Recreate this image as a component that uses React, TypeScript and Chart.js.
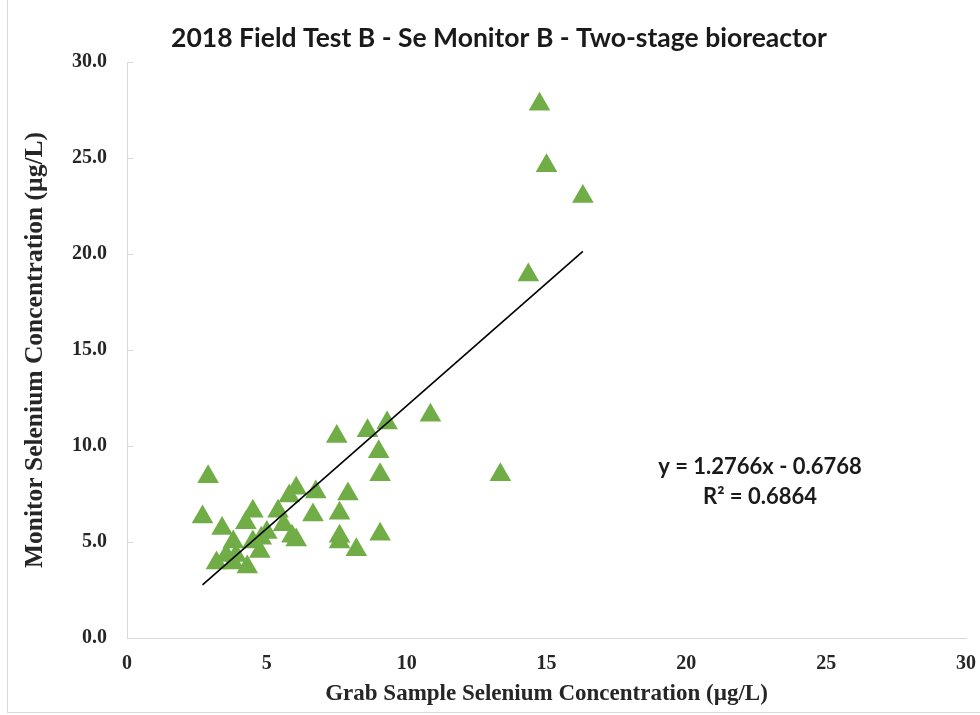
import React, { useEffect, useRef } from "react";
import { Chart, registerables } from "chart.js";

Chart.register(...registerables);

const TITLE = "2018 Field Test B - Se Monitor B - Two-stage bioreactor";
const X_TITLE = "Grab Sample Selenium Concentration (µg/L)";
const Y_TITLE = "Monitor Selenium Concentration (µg/L)";

const grabSe = [
  14.75, 15.0, 16.3, 14.35, 10.85, 13.35, 7.5, 8.6, 9.3, 9.0,
  9.05, 2.9, 2.7, 3.4, 9.05, 8.2, 7.6, 7.9, 7.6, 6.75,
  6.65, 6.05, 5.8, 5.9, 6.05, 5.4, 5.6, 4.5, 4.25, 3.8,
  3.55, 3.2, 3.9, 3.8, 4.3, 4.75, 4.5, 5.0, 7.6, 4.8,
];
const monitorSe = [
  27.8, 24.6, 23.0, 18.9, 11.6, 8.5, 10.5, 10.8, 11.2, 9.7,
  8.5, 8.4, 6.3, 5.7, 5.4, 4.6, 5.0, 7.5, 6.5, 7.6,
  6.4, 7.8, 7.4, 5.3, 5.1, 6.6, 5.9, 6.6, 6.0, 5.0,
  4.3, 3.9, 4.3, 3.9, 3.7, 4.5, 5.0, 5.5, 5.3, 5.2,
];

const TREND_SLOPE = 1.2766;
const TREND_INTERCEPT = -0.6768;
const EQUATION_LINES = ["y = 1.2766x - 0.6768", "R\u00B2 = 0.6864"];

const X_MIN = 0;
const X_MAX = 30;
const X_STEP = 5;
const Y_MIN = 0;
const Y_MAX = 30;
const Y_STEP = 5;

const SERIF = "'Liberation Serif', 'Times New Roman', serif";
const SANS = "Lato, 'Open Sans', sans-serif";

export default function App() {
  const ref = useRef<HTMLCanvasElement | null>(null);

  useEffect(() => {
    if (!ref.current) return;
    const points = grabSe.map((x, i) => ({ x, y: monitorSe[i] }));
    const xMinData = Math.min(...grabSe);
    const xMaxData = Math.max(...grabSe);
    const trend = [
      { x: xMinData, y: TREND_SLOPE * xMinData + TREND_INTERCEPT },
      { x: xMaxData, y: TREND_SLOPE * xMaxData + TREND_INTERCEPT },
    ];

    const decor = {
      id: "decor",
      beforeDraw(chart: any) {
        const ctx = chart.ctx;
        ctx.save();
        ctx.fillStyle = "#ffffff";
        ctx.fillRect(0, 0, chart.width, chart.height);
        ctx.strokeStyle = "#d9d9d9";
        ctx.lineWidth = 1;
        ctx.beginPath();
        ctx.moveTo(7.5, 0);
        ctx.lineTo(7.5, 712.5);
        ctx.lineTo(chart.width, 712.5);
        ctx.stroke();
        ctx.restore();
      },
      afterDraw(chart: any) {
        const ctx = chart.ctx;
        const area = chart.chartArea;
        const ys = chart.scales.y;
        ctx.save();
        ctx.strokeStyle = "#d9d9d9";
        ctx.lineWidth = 1;
        for (let v = Y_MIN; v <= Y_MAX; v += Y_STEP) {
          const py = Math.round(ys.getPixelForValue(v)) + 0.5;
          ctx.beginPath();
          ctx.moveTo(area.left, py);
          ctx.lineTo(area.left + 6, py);
          ctx.stroke();
        }
        ctx.fillStyle = "#1a1a1a";
        ctx.textAlign = "center";
        ctx.textBaseline = "middle";
        ctx.font = `bold 26.5px ${SANS}`;
        ctx.fillText(TITLE, 499, 38);
        ctx.font = `bold 23px ${SERIF}`;
        ctx.fillStyle = "#262626";
        ctx.fillText(X_TITLE, (area.left + area.right) / 2, 694);
        ctx.save();
        ctx.translate(35, (area.top + area.bottom) / 2);
        ctx.rotate(-Math.PI / 2);
        ctx.font = `bold 25.5px ${SERIF}`;
        ctx.fillText(Y_TITLE, 0, 0);
        ctx.restore();
        ctx.font = `bold 22px ${SANS}`;
        ctx.fillStyle = "#1a1a1a";
        ctx.fillText(EQUATION_LINES[0], 760, 467);
        ctx.fillText(EQUATION_LINES[1], 760, 497);
        ctx.restore();
      },
    };

    const chart = new Chart(ref.current, {
      type: "scatter",
      data: {
        datasets: [
          {
            type: "line",
            data: trend,
            borderColor: "#000000",
            borderWidth: 1.6,
            pointRadius: 0,
            fill: false,
            order: 0,
          } as any,
          {
            type: "scatter",
            data: points,
            pointStyle: "triangle",
            pointRadius: 12.5,
            pointHoverRadius: 12.5,
            backgroundColor: "#70AD47",
            borderColor: "#70AD47",
            borderWidth: 0,
            order: 1,
          },
        ],
      },
      options: {
        animation: false,
        responsive: false,
        maintainAspectRatio: false,
        layout: { padding: { left: 0, top: 62, right: 14, bottom: 0 } },
        plugins: {
          legend: { display: false },
          title: { display: false },
          tooltip: { enabled: false },
        },
        scales: {
          x: {
            type: "linear",
            min: X_MIN,
            max: X_MAX,
            afterFit(scale: any) {
              scale.height = 77;
            },
            ticks: {
              stepSize: X_STEP,
              padding: 0,
              color: "#262626",
              font: { family: SERIF, size: 20, weight: "bold" },
            },
            grid: {
              display: true,
              drawOnChartArea: false,
              drawTicks: true,
              tickLength: 14,
              tickColor: "rgba(0,0,0,0)",
              color: "#d9d9d9",
            },
            border: { display: true, color: "#d9d9d9", width: 1 },
          },
          y: {
            type: "linear",
            min: Y_MIN,
            max: Y_MAX,
            afterFit(scale: any) {
              scale.width = 127;
            },
            ticks: {
              stepSize: Y_STEP,
              padding: 20,
              color: "#262626",
              font: { family: SERIF, size: 20, weight: "bold" },
              callback: (v: any) => Number(v).toFixed(1),
            },
            grid: { display: true, drawOnChartArea: false, drawTicks: false, color: "#d9d9d9" },
            border: { display: true, color: "#d9d9d9", width: 1 },
          },
        },
      },
      plugins: [decor],
    });
    return () => chart.destroy();
  }, []);

  return (
    <div style={{ position: "absolute", left: 0, top: 0, width: 980, height: 715, background: "#fff" }}>
      <canvas ref={ref} width={980} height={715} style={{ width: 980, height: 715, display: "block" }} />
    </div>
  );
}
